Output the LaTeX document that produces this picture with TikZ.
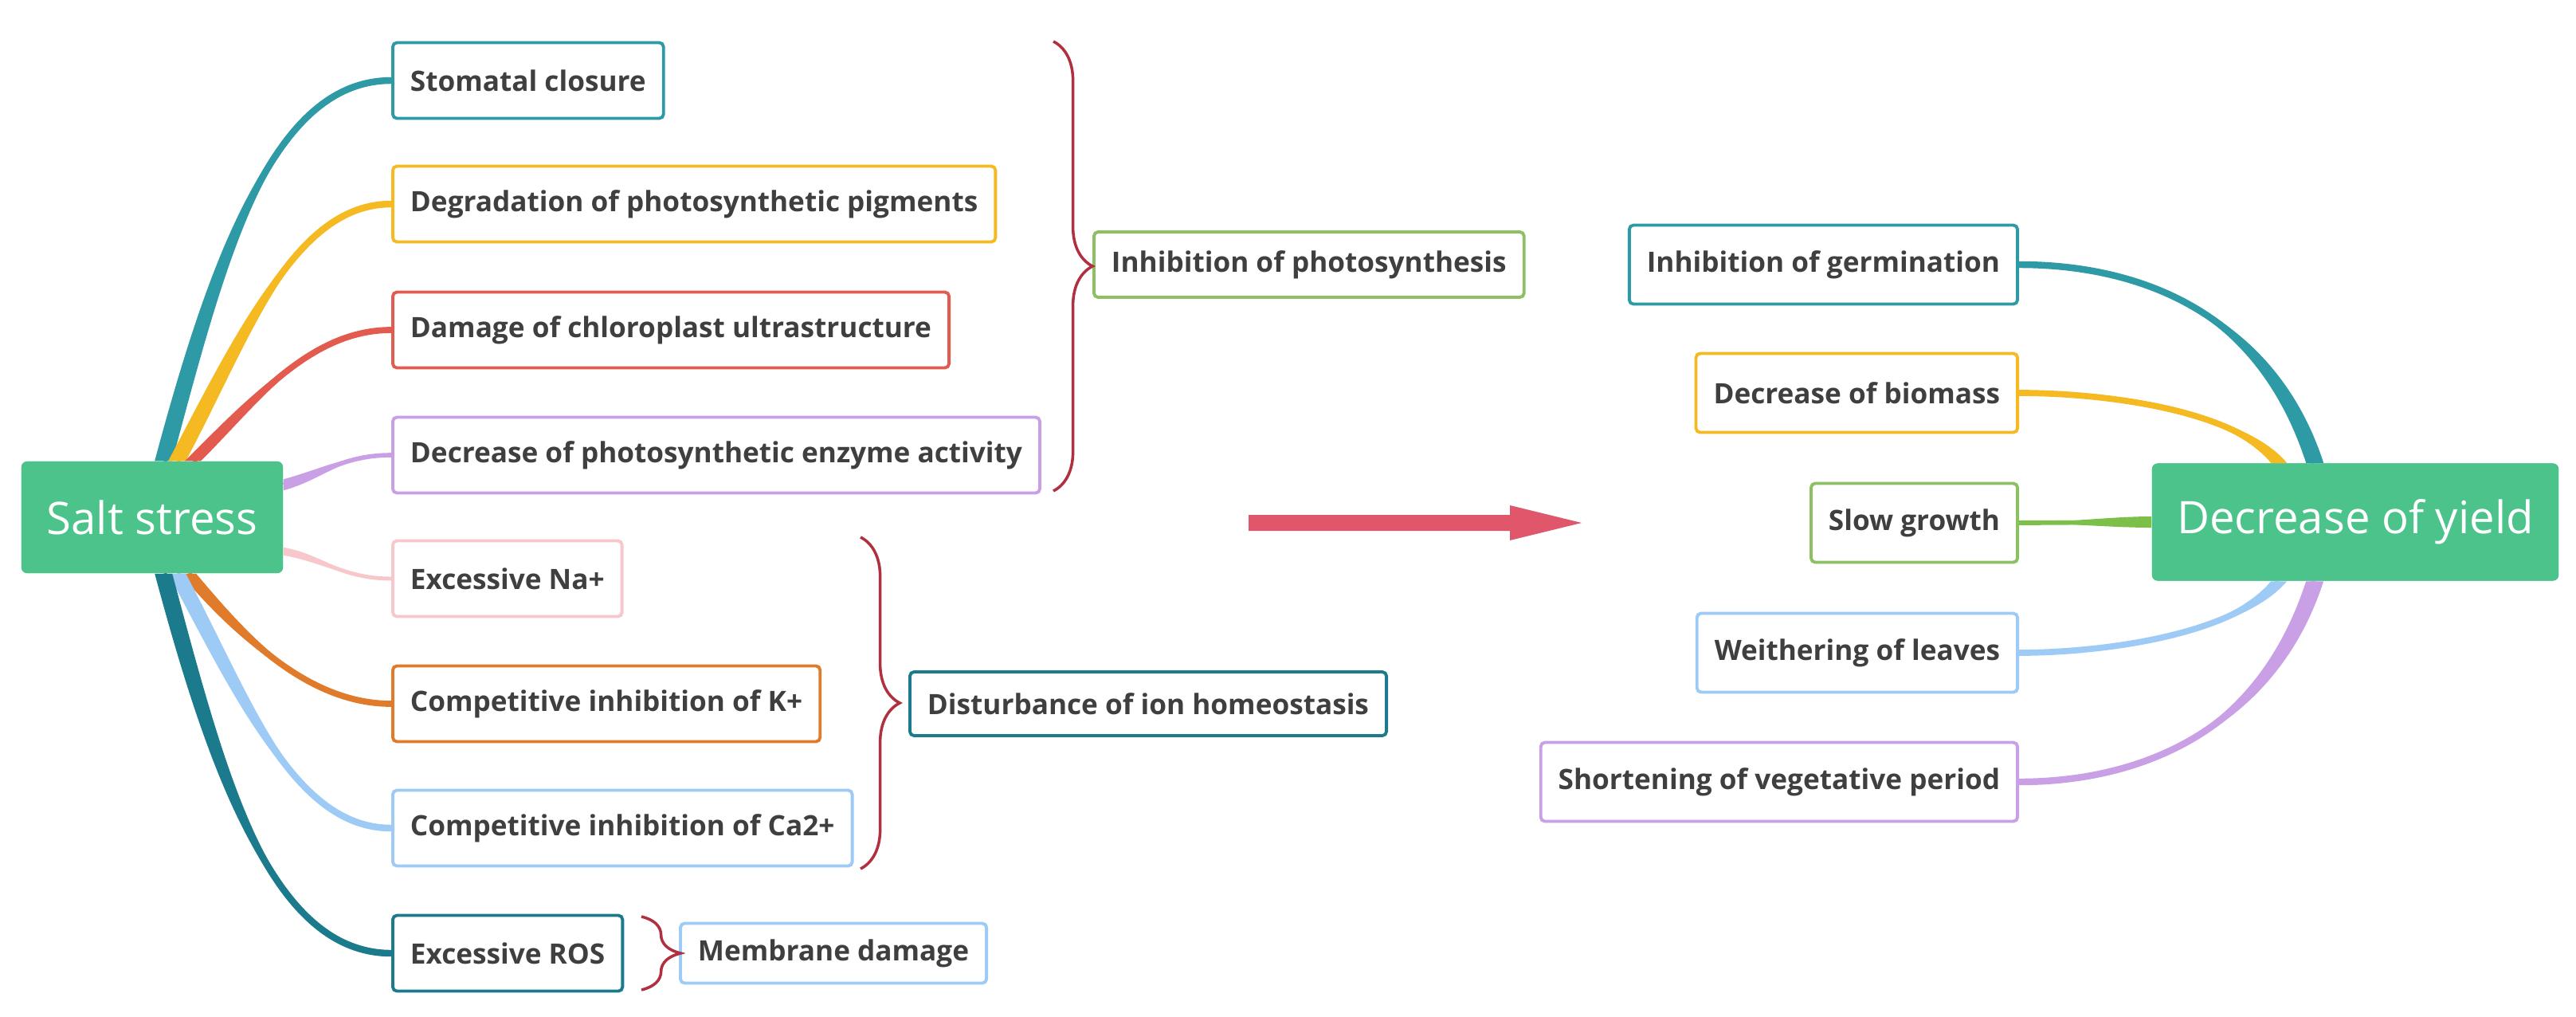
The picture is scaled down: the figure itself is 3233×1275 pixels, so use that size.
\documentclass[tikz,border=0pt]{standalone}
\usepackage{fontspec}
\setmainfont{Open Sans}
\usetikzlibrary{calc,decorations.pathreplacing}
\definecolor{cteal}{HTML}{2E9AA6}
\definecolor{cyel}{HTML}{F5B921}
\definecolor{cred}{HTML}{E35A4F}
\definecolor{clav}{HTML}{C9A0E6}
\definecolor{cpink}{HTML}{F8C7CC}
\definecolor{corange}{HTML}{E07B2B}
\definecolor{clblue}{HTML}{9ECBF5}
\definecolor{cdteal}{HTML}{1B7A8C}
\definecolor{cgreen}{HTML}{7CC04A}
\definecolor{clgreen}{HTML}{8CC063}
\definecolor{cmain}{HTML}{4CC38A}
\definecolor{cbrace}{HTML}{B03040}
\definecolor{carrow}{HTML}{E0566A}
\definecolor{ctext}{HTML}{3F3F3F}
\newcommand{\taper}[9]{% start, end, color, out angle, L1, in angle, L2, offset, line width
  \fill[#3] ($(#1)+(#8)$) .. controls +(#4:#5) and +(#6:#7) .. (#2)
     .. controls +(#6:#7) and +(#4:#5) .. ($(#1)-(#8)$) -- cycle;
  \draw[#3,line width=#9] (#1) .. controls +(#4:#5) and +(#6:#7) .. (#2);}
\begin{document}
\begin{tikzpicture}[x=0.01cm,y=0.01cm,
  box/.style={draw=#1,line width=1.1pt,rounded corners=1.5pt,fill=white,
    font=\fontsize{10}{12}\selectfont\bfseries,text=ctext,minimum height=0.95cm,inner xsep=0.22cm,anchor=west},
  main/.style={fill=cmain,rounded corners=2pt,text=white,font=\fontsize{16}{18}\selectfont,
    minimum height=1.4cm,inner sep=0pt},
  br/.style={draw=cbrace,line width=1pt,decorate,decoration={brace,amplitude=14}}]
\useasboundingbox (0,0) rectangle (3233,-1275);
% main nodes
\node[main,minimum width=3.28cm] (salt) at (191,-649) {Salt stress};
\node[main,minimum width=5.1cm,minimum height=1.47cm] (yield) at (2956,-655) {Decrease of yield};
% left boxes
\node[box=cteal] (stom) at (491,-101) {Stomatal closure};
\node[box=cyel] (degr) at (491,-256) {Degradation of photosynthetic pigments};
\node[box=cred] (dam) at (491,-414) {Damage of chloroplast ultrastructure};
\node[box=clav] (enz) at (491,-571) {Decrease of photosynthetic enzyme activity};
\node[box=cpink] (na) at (491,-726) {Excessive Na+};
\node[box=corange] (kp) at (491,-883) {Competitive inhibition of K+};
\node[box=clblue] (ca) at (491,-1039) {Competitive inhibition of Ca2+};
\node[box=cdteal] (ros) at (491,-1196) {Excessive ROS};
% group boxes
\node[box=clgreen,minimum height=0.82cm] (photo) at (1371,-332) {Inhibition of photosynthesis};
\node[box=cdteal,minimum height=0.8cm] (ion) at (1140,-883) {Disturbance of ion homeostasis};
\node[box=clblue,minimum height=0.75cm] (mem) at (852,-1196) {Membrane damage};
% right boxes
\node[box=cteal,minimum height=0.99cm,anchor=east] (germ) at (2534,-332) {Inhibition of germination};
\node[box=cyel,minimum height=0.99cm,anchor=east] (bio) at (2534,-493) {Decrease of biomass};
\node[box=clgreen,minimum height=0.99cm,anchor=east] (slow) at (2534,-656) {Slow growth};
\node[box=clblue,minimum height=0.99cm,anchor=east] (weith) at (2534,-819) {Weithering of leaves};
\node[box=clav,minimum height=0.99cm,anchor=east] (short) at (2534,-981) {Shortening of vegetative period};
% connector start points
\coordinate (s1) at ($(salt.north west)+(179,0)$);
\coordinate (s2) at ($(salt.north west)+(196,0)$);
\coordinate (s3) at ($(salt.north west)+(216,0)$);
\coordinate (s4) at ($(salt.north east)+(0,-30)$);
\coordinate (s5) at ($(salt.south east)+(0,28)$);
\coordinate (s6) at ($(salt.south west)+(210,0)$);
\coordinate (s7) at ($(salt.south west)+(196,0)$);
\coordinate (s8) at ($(salt.south west)+(179,0)$);
\coordinate (r1) at ($(yield.north west)+(205,0)$);
\coordinate (r2) at ($(yield.north west)+(160,0)$);
\coordinate (r3) at (yield.west);
\coordinate (r4) at ($(yield.south west)+(160,0)$);
\coordinate (r5) at ($(yield.south west)+(205,0)$);
\taper{s1}{stom.west}{cteal}{75}{260}{180}{150}{11,0}{2.4pt}
\taper{s2}{degr.west}{cyel}{62}{180}{180}{120}{11,0}{2.4pt}
\taper{s3}{dam.west}{cred}{45}{110}{180}{100}{10,0}{2.2pt}
\taper{s4}{enz.west}{clav}{15}{50}{180}{60}{0,7}{1.6pt}
\taper{s5}{na.west}{cpink}{-10}{50}{180}{60}{0,5}{1.4pt}
\taper{s6}{kp.west}{corange}{-50}{110}{180}{100}{10,0}{2.2pt}
\taper{s7}{ca.west}{clblue}{-62}{180}{180}{120}{11,0}{2.4pt}
\taper{s8}{ros.west}{cdteal}{-75}{260}{180}{150}{11,0}{2.4pt}
\taper{r1}{germ.east}{cteal}{108}{200}{0}{150}{11,0}{2.4pt}
\taper{r2}{bio.east}{cyel}{130}{90}{0}{100}{10,0}{2.2pt}
\taper{r3}{slow.east}{cgreen}{180}{50}{0}{50}{0,7}{1.6pt}
\taper{r4}{weith.east}{clblue}{-130}{90}{0}{100}{10,0}{2.2pt}
\taper{r5}{short.east}{clav}{-108}{200}{0}{150}{11,0}{2.4pt}
% redraw nodes over connectors
\node[main,minimum width=3.28cm] at (salt) {Salt stress};
\node[main,minimum width=5.1cm,minimum height=1.47cm] at (yield) {Decrease of yield};
% braces
\coordinate (b1t) at (1322,-52); \coordinate (b1b) at (1322,-616);
\coordinate (b2t) at (1080,-674); \coordinate (b2b) at (1080,-1090);
\coordinate (b3t) at (805,-1150); \coordinate (b3b) at (805,-1242);
\draw[br] (b1t) -- (b1b);
\draw[br] (b2t) -- (b2b);
\draw[br] (b3t) -- (b3b);
% arrow
\coordinate (a1) at (1567,-656); \coordinate (a2) at (1985,-656);
\fill[carrow] ($(a1)+(0,-10)$) -- ($(a2)+(-90,-10)$) -- ($(a2)+(-90,-22)$) -- (a2) -- ($(a2)+(-90,22)$) -- ($(a2)+(-90,10)$) -- ($(a1)+(0,10)$) -- cycle;
\end{tikzpicture}
\end{document}
